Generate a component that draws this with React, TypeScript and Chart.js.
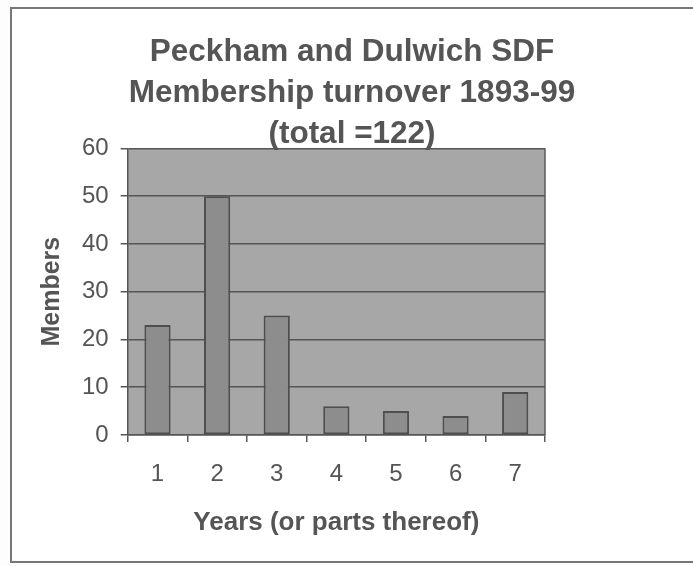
import React, { useEffect, useRef } from "react";
import { Chart, registerables } from "chart.js";

Chart.register(...registerables);

const categories = ["1", "2", "3", "4", "5", "6", "7"];
const members = [23, 50, 25, 6, 5, 4, 9];
const titleLines = ["Peckham and Dulwich SDF", "Membership turnover 1893-99", "(total =122)"];
const yTitle = "Members";
const xTitle = "Years (or parts thereof)";

const FONT = "'Liberation Sans', Arial, sans-serif";
const TEXT = "#555555";

const plotBg = {
  id: "plotBg",
  beforeDraw(chart: any) {
    const { ctx, chartArea } = chart;
    ctx.save();
    ctx.fillStyle = "#a7a7a7";
    ctx.fillRect(chartArea.left, chartArea.top, chartArea.right - chartArea.left, chartArea.bottom - chartArea.top);
    ctx.restore();
  },
  afterDraw(chart: any) {
    const { ctx, chartArea } = chart;
    ctx.save();
    ctx.strokeStyle = "#5a5a5a";
    ctx.lineWidth = 1.5;
    ctx.beginPath();
    ctx.moveTo(chartArea.right, chartArea.top);
    ctx.lineTo(chartArea.right, chartArea.bottom);
    ctx.stroke();
    ctx.restore();
  },
};

export default function App() {
  const ref = useRef<HTMLCanvasElement>(null);
  useEffect(() => {
    if (!ref.current) return;
    const chart = new Chart(ref.current, {
      type: "bar",
      data: {
        labels: categories,
        datasets: [
          {
            data: members,
            backgroundColor: "#8d8d8d",
            borderColor: "#4e4e4e",
            borderWidth: 2,
            borderSkipped: false,
            categoryPercentage: 1,
            barPercentage: 0.44,
          },
        ],
      },
      options: {
        animation: false,
        responsive: false,
        maintainAspectRatio: false,
        layout: { padding: { left: 20, right: 20, top: 0, bottom: 23 } },
        plugins: {
          legend: { display: false },
          tooltip: { enabled: false },
          title: {
            display: true,
            text: titleLines,
            color: TEXT,
            font: { family: FONT, size: 31.5, weight: "bold", lineHeight: 1.3 },
            padding: { top: 23, bottom: -6.5 },
          },
        },
        scales: {
          x: {
            grid: {
              display: true,
              drawOnChartArea: false,
              drawTicks: true,
              tickLength: 7,
              color: "#5a5a5a",
              lineWidth: 1.5,
            },
            border: { display: true, color: "#555555", width: 1.5 },
            ticks: { color: TEXT, font: { family: FONT, size: 24 }, padding: 18 },
            title: {
              display: true,
              text: xTitle,
              color: TEXT,
              font: { family: FONT, size: 26, weight: "bold", lineHeight: 1.2 },
              padding: { top: 0, bottom: 0 },
            },
          },
          y: {
            min: 0,
            max: 60,
            ticks: { stepSize: 10, color: TEXT, font: { family: FONT, size: 24 }, padding: 12 },
            grid: { color: "#555555", lineWidth: 1.5, tickLength: 7, drawTicks: true },
            border: { display: true, color: "#555555", width: 1.5 },
            title: {
              display: true,
              text: yTitle,
              color: TEXT,
              font: { family: FONT, size: 25, weight: "bold", lineHeight: 1.2 },
              padding: { top: 5, bottom: 3 },
            },
          },
          spacer: {
            type: "linear",
            position: "right",
            display: true,
            grid: { display: false },
            border: { display: false },
            ticks: { display: false },
            afterFit(scale: any) {
              scale.width = 127;
            },
          },
        },
      },
      plugins: [plotBg],
    });
    return () => chart.destroy();
  }, []);

  return (
    <div style={{ position: "fixed", left: 0, top: 0, width: 693, height: 566, overflow: "hidden", background: "#fdfdfd" }}>
      <div
        style={{
          position: "absolute",
          left: 10,
          top: 7,
          width: 700,
          height: 552,
          border: "2px solid #777777",
          background: "#ffffff",
        }}
      >
        <canvas ref={ref} width={680} height={552} style={{ display: "block", width: 680, height: 552 }} />
      </div>
    </div>
  );
}
